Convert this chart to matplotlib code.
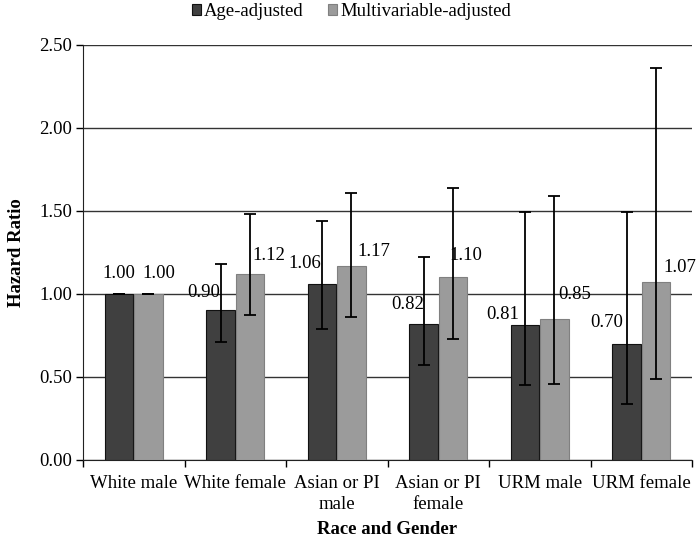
import numpy as np
import matplotlib.pyplot as plt

categories = ['White male', 'White female', 'Asian or PI\nmale', 'Asian or PI\nfemale', 'URM male', 'URM female']
age_hr = [1.00, 0.90, 1.06, 0.82, 0.81, 0.70]
age_lo = [1.00, 0.71, 0.79, 0.57, 0.45, 0.34]
age_hi = [1.00, 1.18, 1.44, 1.22, 1.49, 1.49]
multi_hr = [1.00, 1.12, 1.17, 1.10, 0.85, 1.07]
multi_lo = [1.00, 0.87, 0.86, 0.73, 0.46, 0.49]
multi_hi = [1.00, 1.48, 1.61, 1.64, 1.59, 2.36]

# label offsets in pixels (dx, dy) relative to bar top centre
age_off = [(0, 20), (-17, 18), (-17, 20), (-16, 19), (-22, 11), (-20, 21)]
multi_off = [(10, 20), (19, 18), (22, 14), (13, 22), (20, 24), (24, 15)]

plt.rcParams['font.family'] = ['Liberation Serif', 'DejaVu Serif']
fs = 13.5

fig = plt.figure(figsize=(7, 5.37), dpi=100)
ax = fig.add_axes([0.1186, 0.1434, 0.87, 0.7734])

x = np.arange(len(categories))
w = 0.28
dark, light = '#404040', '#9b9b9b'

b1 = ax.bar(x - 0.145, age_hr, w, color=dark, edgecolor='#111111', linewidth=0.8,
            label='Age-adjusted', zorder=3)
b2 = ax.bar(x + 0.145, multi_hr, w, color=light, edgecolor='#808080', linewidth=0.8,
            label='Multivariable-adjusted', zorder=3)

for xs, hr, lo, hi in [(x - 0.145, age_hr, age_lo, age_hi), (x + 0.145, multi_hr, multi_lo, multi_hi)]:
    hr = np.array(hr)
    yerr = [hr - np.array(lo), np.array(hi) - hr]
    ax.errorbar(xs, hr, yerr=yerr, fmt='none', ecolor='black', elinewidth=1.3,
                capsize=4, capthick=1.3, zorder=4)

for xs, vals, offs in [(x - 0.145, age_hr, age_off), (x + 0.145, multi_hr, multi_off)]:
    for xi, v, (dx, dy) in zip(xs, vals, offs):
        ax.annotate(f'{v:.2f}', (xi, v), xytext=(dx, dy), textcoords='offset pixels',
                    ha='center', va='center', fontsize=fs, zorder=5)

ax.set_ylim(0, 2.5)
ax.set_xlim(-0.5, len(categories) - 0.5)
ax.set_yticks(np.arange(0, 2.51, 0.5))
ax.set_yticklabels([f'{t:.2f}' for t in np.arange(0, 2.51, 0.5)], fontsize=fs)
ax.yaxis.grid(True, color='#333333', linewidth=1.0, zorder=0)
ax.set_axisbelow(True)

ax.set_xticks(x)
ax.set_xticklabels(categories, fontsize=fs, linespacing=1.25)
ax.tick_params(axis='x', which='major', length=0, pad=11)
ax.set_xticks(np.arange(-0.5, len(categories), 1), minor=True)
ax.tick_params(axis='x', which='minor', length=5, width=1, direction='out')
ax.tick_params(axis='y', length=5, width=1, direction='out', pad=3)

for s in ['top', 'right']:
    ax.spines[s].set_visible(False)
ax.spines['left'].set_color('#222222')
ax.spines['bottom'].set_color('#222222')

ax.set_xlabel('Race and Gender', fontsize=fs, fontweight='bold', labelpad=6)
ax.set_ylabel('Hazard Ratio', fontsize=fs, fontweight='bold', labelpad=10)

fig.legend(handles=[b1, b2], loc='upper center', bbox_to_anchor=(0.502, 1.025), ncol=2,
           frameon=False, fontsize=fs, handlelength=0.5, handleheight=0.5,
           handletextpad=0.15, columnspacing=1.3)

fig.savefig('out.png', dpi=100)
